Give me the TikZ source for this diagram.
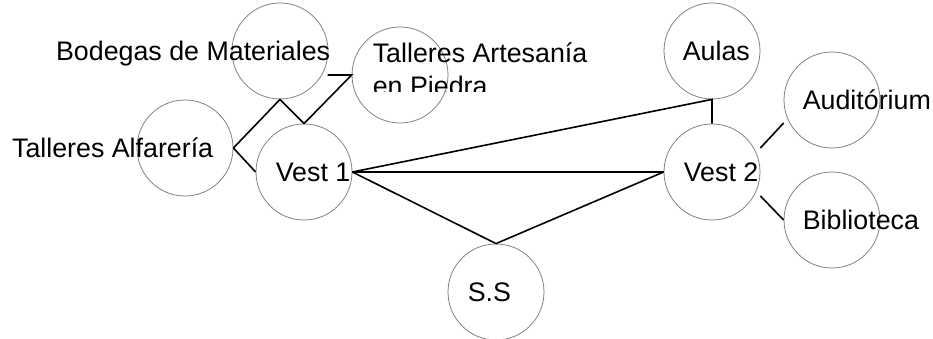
\documentclass[tikz,border=0pt]{standalone}
\usepackage{fontspec}
\setmainfont{Liberation Sans}
\usepackage{tikz}
\usetikzlibrary{positioning}

\begin{document}
\begin{tikzpicture}[
    x=1pt, y=1pt,
    on grid,
    room/.style={draw=gray, line width=0.8pt, circle, minimum size=96pt, inner sep=0pt},
    lbl/.style={inner sep=0pt, font=\fontsize{26.8}{33.4}\selectfont, text=black},
    link/.style={draw=black, line width=1.6pt}
]
\useasboundingbox (0,0) rectangle (933,339);

% Circles
\node[room] (vest1) at (304,167) {};
\node[room, right=408pt of vest1] (vest2) {};
\node[room, below right=120pt and 192pt of vest1] (ss) {};
\node[room, above left=24pt and 119pt of vest1] (alfareria) {};
\node[room, above left=121pt and 24pt of vest1] (bodegas) {};
\node[room, above right=97pt and 96pt of vest1] (artesania) {};
\node[room, above=121pt of vest2] (aulas) {};
\node[room, above right=72pt and 120pt of vest2] (auditorium) {};
\node[room, below right=48pt and 120pt of vest2] (biblioteca) {};

% Labels
\node[lbl, anchor=base east] (bodegas lbl) at ([shift={(2pt,-9.5pt)}]bodegas.east) {Bodegas de Materiales};
\node[lbl, anchor=base east] (alfareria lbl) at ([shift={(-20pt,-9.5pt)}]alfareria.east) {Talleres Alfarería};
\begin{scope}
  \clip ([yshift=-16.7pt]artesania.west) rectangle ++(240pt,80pt);
  \node[lbl, anchor=base west, align=left] (artesania lbl) at ([shift={(21pt,-20.7pt)}]artesania.west) {Talleres Artesanía\\en Piedra};
\end{scope}
\node[lbl, anchor=base west] (vest1 lbl) at ([shift={(20pt,-9.5pt)}]vest1.west) {Vest 1};
\node[lbl, anchor=base west] (vest2 lbl) at ([shift={(20pt,-9.5pt)}]vest2.west) {Vest 2};
\node[lbl, anchor=base west] (ss lbl) at ([shift={(20pt,-9.5pt)}]ss.west) {S.S};
\node[lbl, anchor=base west] (aulas lbl) at ([shift={(19pt,-9.5pt)}]aulas.west) {Aulas};
\node[lbl, anchor=base west] (auditorium lbl) at ([shift={(19pt,-9.5pt)}]auditorium.west) {Auditórium};
\node[lbl, anchor=base west] (biblioteca lbl) at ([shift={(19pt,-9.5pt)}]biblioteca.west) {Biblioteca};

% Connectors
\coordinate (stub) at ([xshift=-24pt]artesania.west);
\draw[link] (alfareria.east) -- (bodegas.south) -- (vest1.north) -- (artesania.west) -- (stub);
\draw[link] (alfareria.east) -- (vest1.west);
\draw[link] (vest1.east) -- (aulas.south) -- (vest2.north);
\draw[link] (vest1.east) -- (vest2.west);
\draw[link] (vest1.east) -- (ss.north) -- (vest2.west);
\draw[link] ([yshift=24pt]vest2.east) -- ([yshift=-23pt]auditorium.west);
\draw[link] ([yshift=-24pt]vest2.east) -- (biblioteca.west);

\end{tikzpicture}
\end{document}
